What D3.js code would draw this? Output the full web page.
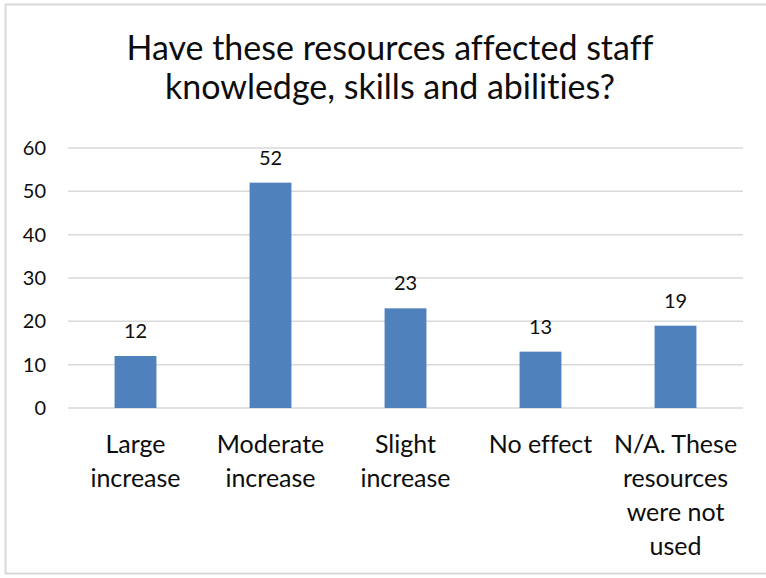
<!DOCTYPE html>
<html>
<head>
<meta charset="utf-8">
<script src="https://cdn.jsdelivr.net/npm/d3@7"></script>
<style>
  body { margin: 0; background: #fff; }
  svg text { font-family: Lato, "Open Sans", sans-serif; fill: #0d0d0d; font-variant-ligatures: none; }
</style>
</head>
<body>
<svg id="chart" width="766" height="578"></svg>
<script>
// data
const categories = ["Large increase", "Moderate increase", "Slight increase", "No effect", "N/A. These resources were not used"];
const categoryLines = [
    ["Large", "increase"],
    ["Moderate", "increase"],
    ["Slight", "increase"],
    ["No effect"],
    ["N/A. These", "resources", "were not", "used"]
];
const counts = [12, 52, 23, 13, 19];
const yTicks = [0, 10, 20, 30, 40, 50, 60];
const titleLines = ["Have these resources affected staff", "knowledge, skills and abilities?"];

const svg = d3.select("#chart");

// light frame round the chart
svg.append("rect")
    .attr("x", 5.5).attr("y", 4.5)
    .attr("width", 780).attr("height", 569)
    .attr("fill", "none")
    .attr("stroke", "#d9d9d9")
    .attr("stroke-width", 2);

const x = d3.scaleBand()
    .domain(categories)
    .range([68, 743])
    .paddingInner(0.69)
    .paddingOuter(0.345);

const y = d3.scaleLinear()
    .domain([0, 60])
    .range([408, 148]);

// title
svg.append("g").selectAll("text")
    .data(titleLines)
    .enter().append("text")
        .attr("x", 390)
        .attr("y", (d, i) => 60 + i * 39)
        .attr("text-anchor", "middle")
        .style("font-size", "34px")
        .text(d => d);

// gridlines
svg.append("g").attr("class", "grid")
    .selectAll("line")
    .data(yTicks)
    .enter().append("line")
        .attr("x1", 68).attr("x2", 743)
        .attr("y1", d => y(d)).attr("y2", d => y(d))
        .attr("stroke", "#d9d9d9")
        .attr("stroke-width", 1.5);

// y axis labels
const yAxis = svg.append("g")
    .attr("transform", "translate(46,0)")
    .call(d3.axisLeft(y).tickValues(yTicks).tickSize(0).tickPadding(0));
yAxis.select(".domain").remove();
yAxis.selectAll("text")
    .style("font-size", "20px")
    .style("font-family", "Lato, sans-serif")
    .attr("fill", "#0d0d0d");

// bars
svg.append("g").selectAll("rect")
    .data(counts)
    .enter().append("rect")
        .attr("x", (d, i) => x(categories[i]))
        .attr("width", x.bandwidth())
        .attr("y", d => y(d))
        .attr("height", d => y(0) - y(d))
        .attr("fill", "#4f81bd");

// value labels
svg.append("g").selectAll("text")
    .data(counts)
    .enter().append("text")
        .attr("x", (d, i) => x(categories[i]) + x.bandwidth() / 2)
        .attr("y", d => y(d) - 18)
        .attr("text-anchor", "middle")
        .style("font-size", "20px")
        .text(d => d);

// category labels
const catG = svg.append("g").selectAll("text")
    .data(categories)
    .enter().append("text")
        .attr("text-anchor", "middle")
        .style("font-size", "25px");
catG.selectAll("tspan")
    .data((d, i) => categoryLines[i].map(t => ({t: t, cx: x(d) + x.bandwidth() / 2})))
    .enter().append("tspan")
        .attr("x", d => d.cx)
        .attr("y", (d, j) => 453 + j * 34)
        .text(d => d.t);
</script>
</body>
</html>
